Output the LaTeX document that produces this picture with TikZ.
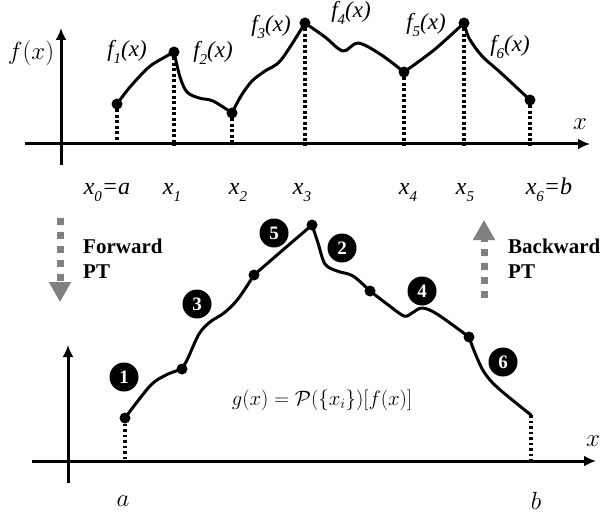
\documentclass[tikz,border=0pt]{standalone}
\usepackage[no-math]{fontspec}
\setmainfont{Liberation Serif}
\newfontfamily\tms{Liberation Serif}
\usetikzlibrary{arrows.meta}
\definecolor{ptgray}{HTML}{808080}
\newcommand\lsub[1]{\raisebox{-0.32em}{\fontsize{15}{15}\selectfont #1}}
\begin{document}
\begin{tikzpicture}[x=1pt,y=-1pt,
  axis/.style={line width=3pt,-{Latex[length=12pt,width=11pt]}},
  curve/.style={line width=3pt,line join=round,line cap=round},
  dot/.style={circle,fill=black,minimum size=11pt,inner sep=0pt},
  dotline/.style={line width=3.4pt,dash pattern=on 2.8pt off 2.7pt},
  numc/.style={circle,fill=black,text=white,minimum size=29pt,inner sep=0pt,font=\tms\bfseries\fontsize{19}{19}\selectfont},
  xlab/.style={anchor=base,font=\tms\itshape\fontsize{24}{24}\selectfont,inner sep=0pt},
  flab/.style={font=\tms\itshape\fontsize{23}{23}\selectfont,inner sep=0pt},
  mlab/.style={font=\fontsize{23}{23}\selectfont,inner sep=0pt},
  ptarrow/.style={ptgray,line width=7pt,dash pattern=on 7pt off 7pt,-{Triangle[length=20pt,width=21pt]}},
  pttext/.style={anchor=base west,font=\tms\bfseries\fontsize{21}{21}\selectfont,inner sep=0pt}
]
\useasboundingbox (0,0) rectangle (600,516);

% ---------------- top panel ----------------
\coordinate (tyb) at (61,165);
\coordinate (tyt) at (61,28);
\coordinate (txl) at (25,144);
\coordinate (txr) at (590,144);
\draw[axis] (txl) -- (txr);
\draw[axis] (tyb) -- (tyt);
\node[mlab] (fxlab) at (31,53) {$f(x)$};
\node[mlab] (txlab) at (580,124) {$x$};

\coordinate (k0) at (117,104);
\coordinate (k1) at (174,52);
\coordinate (k2) at (232,113);
\coordinate (k3) at (305,23);
\coordinate (k4) at (404,72);
\coordinate (k5) at (464,23);
\coordinate (k6) at (530,100);
\foreach \i in {0,...,6}{
  \coordinate (a\i) at (k\i |- txl);
  \draw[dotline] (k\i) -- ([yshift=-2pt]a\i);
}
\draw[curve] plot[smooth,tension=0.55] coordinates {(k0) (130,87) (149,67) (165,57) (k1)};
\draw[curve] plot[smooth,tension=0.55] coordinates {(k1) (180,77) (187,92) (199,98) (213,101) (k2)};
\draw[curve] plot[smooth,tension=0.55] coordinates {(k2) (241,96) (252,81) (265,71) (281,60) (k3)};
\draw[curve] plot[smooth,tension=0.55] coordinates {(k3) (325,37) (343,51) (358,43) (380,54) (k4)};
\draw[curve] plot[smooth,tension=0.55] coordinates {(k4) (434,50) (k5)};
\draw[curve] plot[smooth,tension=0.55] coordinates {(k5) (469,38) (482,56) (501,73) (k6)};
\foreach \i in {0,...,6}{\node[dot] (d\i) at (k\i) {};}

\node[flab] (f1) at (127,52) {f\lsub{1}(x)};
\node[flab] (f2) at (213,53) {f\lsub{2}(x)};
\node[flab] (f3) at (271,27) {f\lsub{3}(x)};
\node[flab] (f4) at (351,13) {f\lsub{4}(x)};
\node[flab] (f5) at (426,25) {f\lsub{5}(x)};
\node[flab] (f6) at (510,47) {f\lsub{6}(x)};

\node[xlab] (x0) at (107,194) {x\lsub{0}=a};
\node[xlab] (x1) at (172,194) {x\lsub{1}};
\node[xlab] (x2) at (238,194) {x\lsub{2}};
\node[xlab] (x3) at (302,194) {x\lsub{3}};
\node[xlab] (x4) at (408,194) {x\lsub{4}};
\node[xlab] (x5) at (465,194) {x\lsub{5}};
\node[xlab] (x6) at (549,194) {x\lsub{6}=b};

% ---------------- PT arrows ----------------
\coordinate (fa) at (60,218);
\coordinate (fb) at (60,302);
\draw[ptarrow] (fa) -- (fb);
\node[pttext] (fw1) at (83,253) {Forward};
\node[pttext] (fw2) at (83,278) {PT};
\coordinate (ba) at (484,298);
\coordinate (bb) at (484,220);
\draw[ptarrow] (ba) -- (bb);
\node[pttext] (bw1) at (508,253) {Backward};
\node[pttext] (bw2) at (508,278) {PT};

% ---------------- bottom panel ----------------
\coordinate (byb) at (68,483);
\coordinate (byt) at (68,345);
\coordinate (bxl) at (32,461);
\coordinate (bxr) at (596,461);
\draw[axis] (bxl) -- (bxr);
\draw[axis] (byb) -- (byt);
\node[mlab] (bxlab) at (593,441) {$x$};
\node[mlab] (alab) at (123,501) {$a$};
\node[mlab] (blab) at (536,501) {$b$};

\coordinate (q0) at (125,418);
\coordinate (q1) at (182,369);
\coordinate (q2) at (254,275);
\coordinate (q3) at (312,225);
\coordinate (q4) at (370,291);
\coordinate (q5) at (469,337);
\coordinate (q6) at (531,415);
\coordinate (qa) at (q0 |- bxl);
\coordinate (qb) at (q6 |- bxl);
\draw[dotline] (q0) -- ([yshift=-2pt]qa);
\draw[dotline] (q6) -- ([yshift=-2pt]qb);
\draw[curve] plot[smooth,tension=0.55] coordinates {(q0) (150,386) (166,375) (q1)};
\draw[curve] plot[smooth,tension=0.55] coordinates {(q1) (188,358) (199,334) (210,322) (224,313) (238,299) (q2)};
\draw[curve] plot[smooth,tension=0.55] coordinates {(q2) (284,249) (q3)};
\draw[curve] plot[smooth,tension=0.55] coordinates {(q3) (318,243) (325,264) (337,271) (353,276) (q4)};
\draw[curve] plot[smooth,tension=0.55] coordinates {(q4) (387,304) (404,316) (412,313) (422,308) (437,314) (q5)};
\draw[curve] plot[smooth,tension=0.55] coordinates {(q5) (475,353) (484,372) (498,388) (q6)};
\foreach \i in {0,...,5}{\node[dot] (e\i) at (q\i) {};}

\node[numc] (n1) at (124,377) {1};
\node[numc] (n2) at (342,248) {2};
\node[numc] (n3) at (197,304) {3};
\node[numc] (n4) at (422,291) {4};
\node[numc] (n5) at (274,233) {5};
\node[numc] (n6) at (503,362) {6};

\node[inner sep=0pt,font=\fontsize{20.5}{24}\selectfont] (gf) at (322,400) {$g(x) = \mathcal{P}(\{x_i\})[f(x)]$};
\end{tikzpicture}
\end{document}
